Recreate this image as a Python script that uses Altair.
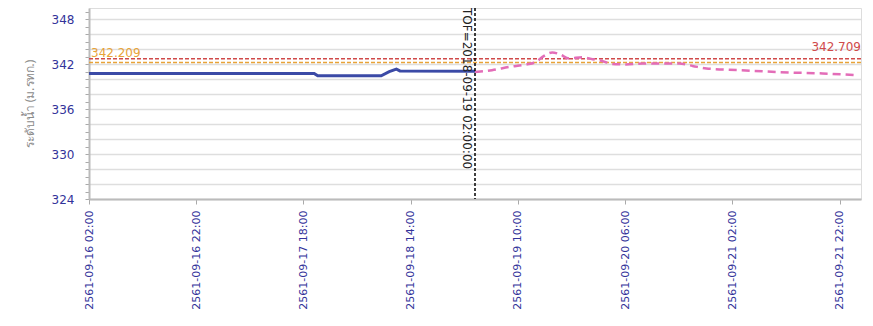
import altair as alt
import pandas as pd

# ---- data ----
obs_time = ["2018-09-16 02:00", "2018-09-17 20:00", "2018-09-17 20:40", "2018-09-18 08:30",
            "2018-09-18 10:00", "2018-09-18 11:20", "2018-09-18 12:00", "2018-09-19 02:00"]
obs_level = [340.76, 340.76, 340.44, 340.44, 341.0, 341.33, 341.1, 341.05]

fc_time = ["2018-09-19 02:00", "2018-09-19 05:10", "2018-09-19 08:25", "2018-09-19 11:35",
           "2018-09-19 13:25", "2018-09-19 14:35", "2018-09-19 16:25", "2018-09-19 17:40",
           "2018-09-19 19:35", "2018-09-19 22:00", "2018-09-19 23:55", "2018-09-20 01:50",
           "2018-09-20 03:35", "2018-09-20 06:10", "2018-09-20 09:10", "2018-09-20 12:25",
           "2018-09-20 16:05", "2018-09-20 18:35", "2018-09-20 21:10", "2018-09-21 03:20",
           "2018-09-21 12:40", "2018-09-21 18:50", "2018-09-22 01:00"]
fc_level = [340.95, 341.2, 341.64, 341.96, 342.31, 342.97, 343.56, 343.37, 342.76, 342.93,
            342.67, 342.4, 342.04, 341.96, 342.09, 342.09, 342.09, 341.77, 341.43, 341.2,
            340.89, 340.76, 340.53]

thr_values = [342.709, 342.209]
thr_labels = ["342.709", "342.209"]
thr_colors = ["#d04a4a", "#e8a338"]

tof_time = "2018-09-19 02:00"
tof_label = "TOF=2018-09-19 02:00:00"

x_ticks = ["2018-09-16 02:00", "2018-09-16 22:00", "2018-09-17 18:00", "2018-09-18 14:00",
           "2018-09-19 10:00", "2018-09-20 06:00", "2018-09-21 02:00", "2018-09-21 22:00"]
x_domain = ["2018-09-16 02:00", "2018-09-22 02:00"]
y_ticks = list(range(324, 350))
y_domain = [324, 349.5]
y_title = "ระดับน้ำ (ม.รทก.)"


def ms(lst):
    return [int(v) for v in (pd.to_datetime(lst).astype("int64") // 10**6)]


obs_df = pd.DataFrame({"t": ms(obs_time), "v": obs_level})
fc_df = pd.DataFrame({"t": ms(fc_time), "v": fc_level})
thr_df = pd.DataFrame({"v": thr_values, "label": thr_labels, "c": thr_colors})
tof_df = pd.DataFrame({"t": ms([tof_time]), "label": [tof_label]})

LABEL_BLUE = "#33339a"
FONT = "DejaVu Sans"

xscale = alt.Scale(type="utc", domain=ms(x_domain), nice=False)
yscale = alt.Scale(domain=y_domain, nice=False, zero=False)

xaxis = alt.Axis(
    values=ms(x_ticks), labelExpr="'2561-' + utcFormat(datum.value, '%m-%d %H:%M')",
    labelAngle=-90, labelColor=LABEL_BLUE, labelFontSize=11, labelFont=FONT,
    tickSize=5, tickColor="#aaaaaa", domainColor="#bbbbbb", domainWidth=2,
    labelPadding=6, grid=False, labelOverlap=False, title=None,
)
yaxis = alt.Axis(
    values=y_ticks, labelExpr="datum.value % 6 == 0 ? datum.label : ''",
    labelColor=LABEL_BLUE, labelFontSize=12, labelFont=FONT, labelPadding=11,
    tickSize=4, tickColor="#aaaaaa", domainColor="#bbbbbb", domainWidth=2,
    grid=True, gridColor="#dedede", gridWidth=1.5,
    gridOpacity={"condition": {"test": "datum.value % 2 == 0", "value": 1}, "value": 0},
    labelOverlap=False,
    title=y_title, titleColor="#8a8a8a", titleFontWeight="normal", titleFontSize=12,
    titleFont="Noto Sans", titlePadding=15,
)

X = alt.X("t:T", scale=xscale, axis=xaxis)
Y = alt.Y("v:Q", scale=yscale, axis=yaxis)

thr_rules = alt.Chart(thr_df).mark_rule(strokeDash=[4, 2], strokeWidth=1.5).encode(
    y=Y, color=alt.Color("c:N", scale=None)
)

obs_line = alt.Chart(obs_df).mark_line(color="#3b4aa6", strokeWidth=3).encode(x=X, y=Y)

fc_line = alt.Chart(fc_df).mark_line(
    color="#e36db8", strokeWidth=2.5, strokeDash=[8, 5], interpolate="monotone"
).encode(x=X, y=Y)

thr_low_text = alt.Chart(thr_df.iloc[[1]]).mark_text(
    align="left", baseline="alphabetic", dx=1, dy=-6, fontSize=12, font=FONT
).encode(x=alt.value(1), y=Y, text="label:N",
         color=alt.Color("c:N", scale=None))

thr_high_text = alt.Chart(thr_df.iloc[[0]]).mark_text(
    align="right", baseline="alphabetic", dy=-8, fontSize=12, font=FONT
).encode(x=alt.value(772), y=Y, text="label:N",
         color=alt.Color("c:N", scale=None))

tof_rule = alt.Chart(tof_df).mark_rule(color="black", strokeDash=[3, 2], strokeWidth=1.5).encode(
    x=X
)
tof_text = alt.Chart(tof_df).mark_text(
    angle=90, align="left", baseline="top", dy=3, dx=0, fontSize=12, font=FONT, color="#222222"
).encode(x=X, y=alt.value(0), text="label:N")

chart = alt.layer(
    obs_line, thr_rules, fc_line, tof_rule, tof_text, thr_low_text, thr_high_text
).properties(
    width=772, height=191,
    autosize=alt.AutoSizeParams(type="none"),
    padding={"left": 81, "top": 0, "right": 4, "bottom": 115},
).configure_view(strokeWidth=0).configure(background="white")

chart.save("out.html", embed_options={"renderer": "svg", "actions": False})
